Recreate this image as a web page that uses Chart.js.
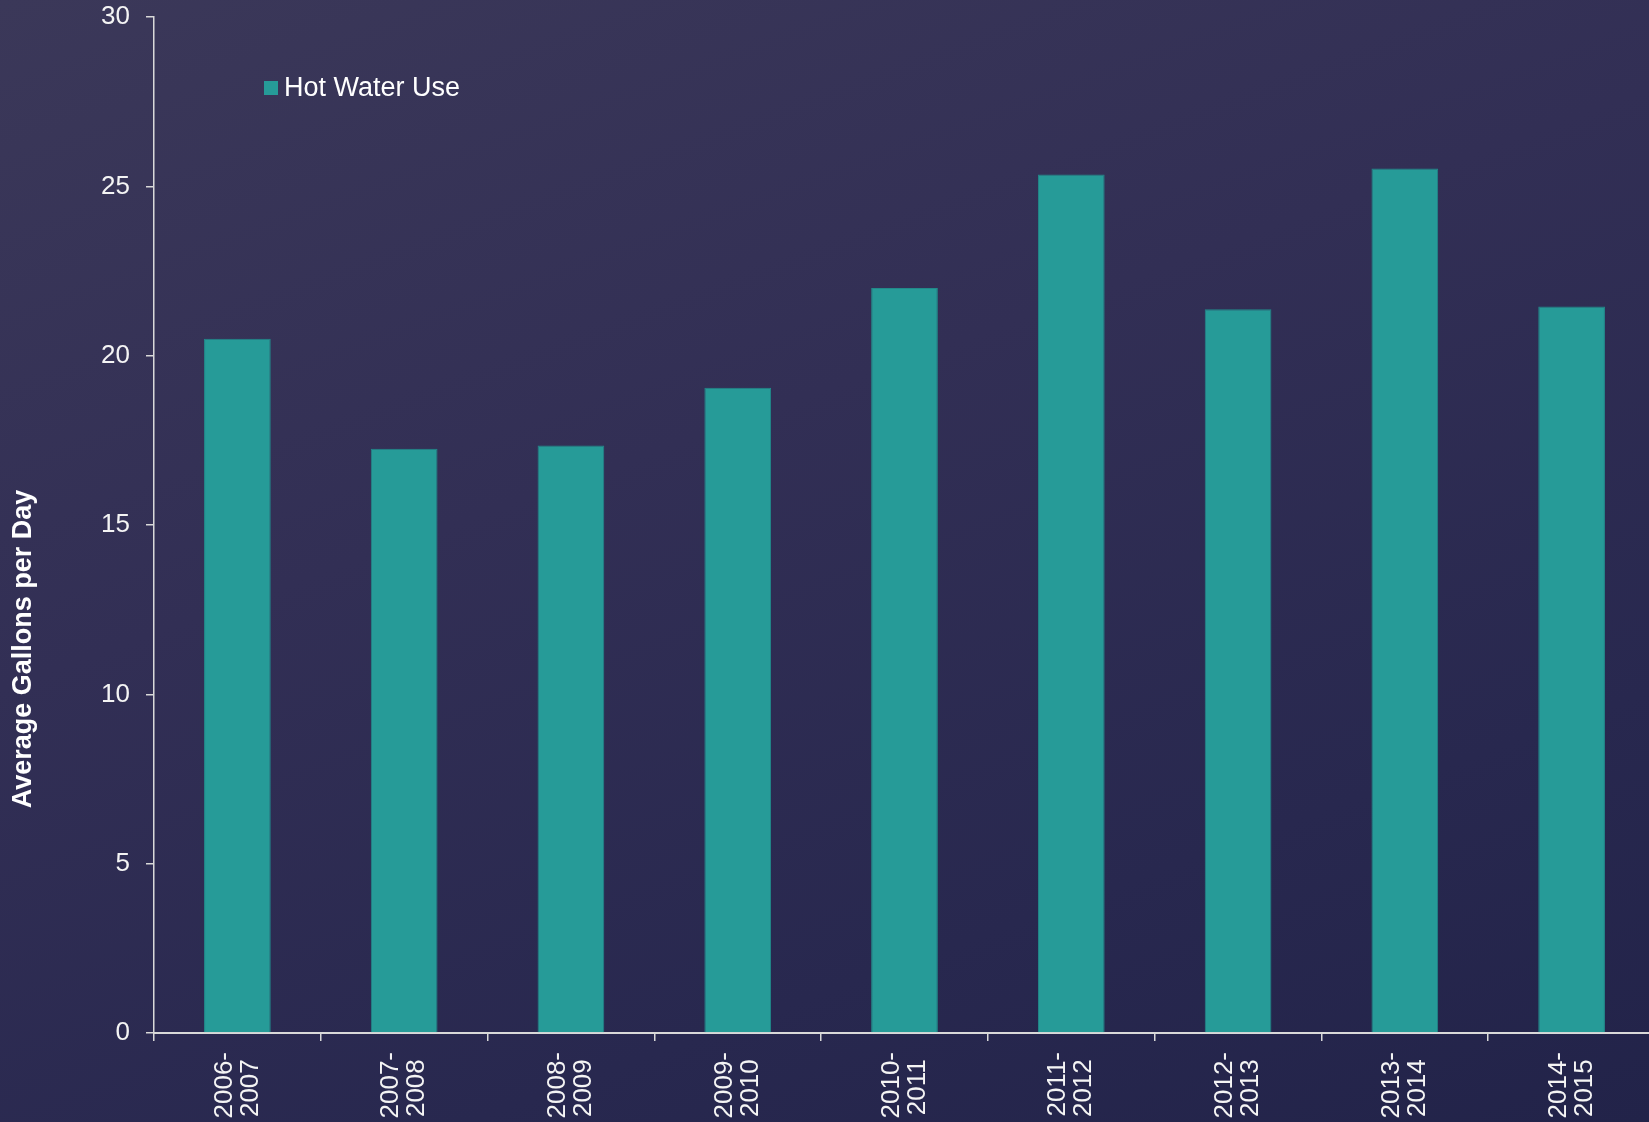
<!DOCTYPE html>
<html>
<head>
<meta charset="utf-8">
<title>Hot Water Use</title>
<script src="https://cdn.jsdelivr.net/npm/chart.js@4.4.1/dist/chart.umd.min.js"></script>
<style>
    html, body {
        margin: 0;
        padding: 0;
        width: 1649px;
        height: 1122px;
        overflow: hidden;
        background: linear-gradient(160deg, #3b3859 0%, #322f55 40%, #28284f 75%, #222349 100%);
    }
    #barChart-1 {
        display: block;
    }
</style>
</head>
<body>
<canvas id="barChart-1" width="1655" height="1122"></canvas>
<script>
/* global Chart*/

// Temporadas (eje X) y consumo promedio de agua caliente (galones por día)
const temporadas = ['2006-2007', '2007-2008', '2008-2009', '2009-2010', '2010-2011',
    '2011-2012', '2012-2013', '2013-2014', '2014-2015'];
const aguaCaliente = [20.5, 17.25, 17.35, 19.05, 22.0, 25.35, 21.37, 25.53, 21.45];
const ticksY = [0, 5, 10, 15, 20, 25, 30];
const tituloY = 'Average Gallons per Day';

const colorBarra = '#269b98';
const colorEje = '#d9d9d9';
const fuente = '"Liberation Sans", Arial, sans-serif';

// Cada etiqueta en dos líneas: "2006-" arriba y "2007" debajo
const etiquetas = temporadas.map(t => {
    const partes = t.split('-');
    return [partes[0] + '-', partes[1] + ' '];
});

// Leyenda y título del eje Y dibujados a mano
const extras = {
    id: 'extras',
    afterDraw(chart) {
        const c = chart.ctx;
        const ds = chart.data.datasets[0];
        c.save();
        c.fillStyle = ds.backgroundColor;
        c.fillRect(264, 81, 14, 14);
        c.fillStyle = '#ffffff';
        c.font = '27px ' + fuente;
        c.textBaseline = 'middle';
        c.textAlign = 'left';
        c.fillText(ds.label, 284, 89);

        c.translate(24, 649);
        c.rotate(-Math.PI / 2);
        c.font = 'bold 27px ' + fuente;
        c.textAlign = 'center';
        c.fillText(tituloY, 0, 0);
        c.restore();
    }
};

var ctx1 = document.getElementById('barChart-1').getContext('2d');
var myChart1 = new Chart(ctx1, {
    type: 'bar',
    data: {
        labels: etiquetas,
        datasets: [{
            label: 'Hot Water Use',
            data: aguaCaliente,
            backgroundColor: colorBarra,
            borderColor: '#22898a',
            borderWidth: 1,
            barPercentage: 0.4,
            categoryPercentage: 1.0
        }]
    },
    options: {
        responsive: false,
        animation: false,
        layout: {
            padding: { top: 17, right: 0, bottom: 0, left: 0 }
        },
        plugins: {
            legend: { display: false },
            tooltip: { enabled: false }
        },
        scales: {
            x: {
                afterFit: (scale) => {
                    scale.height = 89;
                    scale.paddingLeft = 0;
                    scale.paddingRight = 0;
                },
                grid: {
                    display: true,
                    drawOnChartArea: false,
                    color: colorEje,
                    lineWidth: 1.5,
                    tickLength: 8
                },
                border: { display: true, color: colorEje, width: 2 },
                ticks: {
                    color: '#f4f4f4',
                    font: { family: fuente, size: 26, lineHeight: 1.0 },
                    minRotation: 90,
                    maxRotation: 90,
                    autoSkip: false,
                    padding: 11,
                    labelOffset: -13
                }
            },
            y: {
                min: 0,
                max: 30,
                afterFit: (scale) => {
                    scale.width = 154;
                    scale.paddingTop = 0;
                    scale.paddingBottom = 0;
                },
                afterBuildTicks: (scale) => {
                    scale.ticks = ticksY.map(v => ({ value: v }));
                },
                grid: {
                    display: true,
                    drawOnChartArea: false,
                    color: colorEje,
                    lineWidth: 1.5,
                    tickLength: 8
                },
                border: { display: true, color: colorEje, width: 1.5 },
                ticks: {
                    color: '#f4f4f4',
                    font: { family: fuente, size: 26 },
                    padding: 16
                }
            }
        }
    },
    plugins: [extras]
});
</script>
</body>
</html>
